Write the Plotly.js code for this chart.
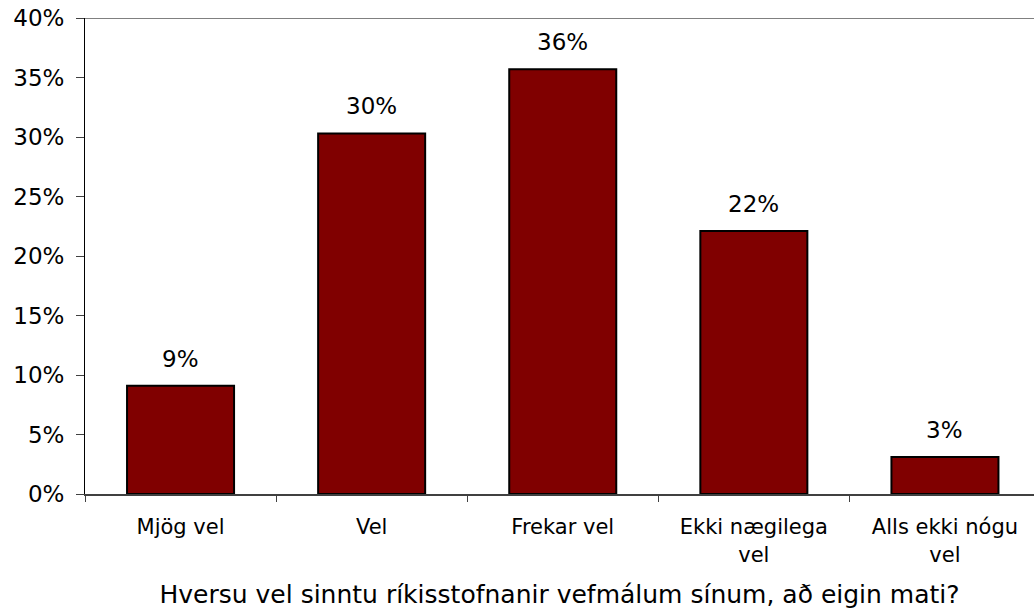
<!DOCTYPE html>
<html>
<head>
<meta charset="utf-8">
<script src="https://cdn.plot.ly/plotly-3.0.1.min.js"></script>
<style>html,body{margin:0;padding:0;background:#fff;}#chart{width:1034px;height:609px;}</style>
</head>
<body>
<div id="chart"></div>
<script>
const categories = ["Mjög vel", "Vel", "Frekar vel", "Ekki nægilega<br>vel", "Alls ekki nógu<br>vel"];
const values = [9.1, 30.3, 35.7, 22.1, 3.1];
const yTickValues = [0, 5, 10, 15, 20, 25, 30, 35, 40];
const axisTitle = "Hversu vel sinntu ríkisstofnanir vefmálum sínum, að eigin mati?";

const font = "DejaVu Sans, Verdana, sans-serif";

const trace = {
  type: "bar",
  x: categories,
  y: values,
  width: 0.56,
  marker: {color: "#800000", line: {color: "#000000", width: 2}},
  hoverinfo: "skip"
};

const annotations = categories.map((c, i) => ({
  x: c, y: values[i], xref: "x", yref: "y",
  text: Math.round(values[i]) + "%",
  showarrow: false, yanchor: "bottom", yshift: 12,
  font: {family: font, size: 23, color: "#000"}
}));

const layout = {
  width: 1034, height: 609,
  margin: {l: 85, r: 0, t: 18, b: 115},
  paper_bgcolor: "#fff", plot_bgcolor: "#fff",
  showlegend: false,
  xaxis: {
    type: "category",
    range: [-0.5, 4.466],
    showline: true, linecolor: "#404040", linewidth: 2,
    ticks: "outside", tickson: "boundaries", ticklen: 6, tickcolor: "#404040", tickwidth: 1,
    tickfont: {family: font, size: 21, color: "#000"},
    ticklabelstandoff: 13,
    showgrid: false, zeroline: false,
    title: {text: axisTitle, font: {family: font, size: 25, color: "#000"}, standoff: 22}
  },
  yaxis: {
    range: [0, 40],
    tickvals: yTickValues,
    ticktext: yTickValues.map(v => v + "%"),
    showline: true, linecolor: "#000", linewidth: 1,
    ticks: "outside", ticklen: 8, tickcolor: "#404040", tickwidth: 1,
    tickfont: {family: font, size: 23, color: "#000"},
    ticklabelstandoff: 7,
    showgrid: false, zeroline: false
  },
  shapes: [{
    type: "line", xref: "paper", yref: "y", x0: 0, x1: 1, y0: 40, y1: 40,
    line: {color: "#808080", width: 2}
  }],
  annotations: annotations
};

Plotly.newPlot("chart", [trace], layout, {staticPlot: true, displayModeBar: false});
</script>
</body>
</html>
